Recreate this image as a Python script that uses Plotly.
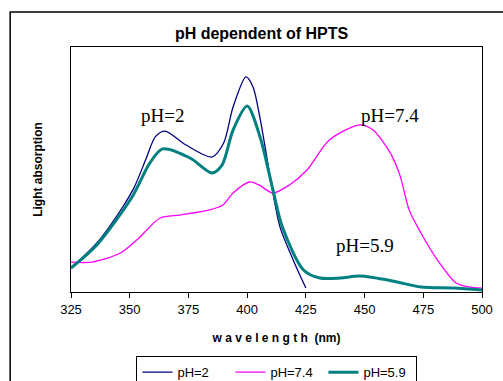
import plotly.graph_objects as go

# pH = 2
wl_ph2 = [325, 336, 347, 352, 357, 361, 365, 374, 385, 390, 394, 399.5, 402.5, 405.4, 411, 414, 419.6, 425]
abs_ph2 = [0.098, 0.200, 0.347, 0.429, 0.545, 0.635, 0.657, 0.600, 0.551, 0.608, 0.755, 0.878, 0.837, 0.714, 0.404, 0.265, 0.131, 0.016]

# pH = 7.4
wl_ph74 = [325, 334, 346, 353, 363, 371.4, 384, 389.7, 394, 401, 405, 411, 418, 425.5, 435, 448, 453.6, 461, 465, 469, 474, 481, 489, 495, 500]
abs_ph74 = [0.122, 0.122, 0.159, 0.212, 0.302, 0.314, 0.335, 0.355, 0.404, 0.449, 0.437, 0.404, 0.437, 0.498, 0.620, 0.682, 0.661, 0.567, 0.478, 0.335, 0.241, 0.131, 0.037, 0.020, 0.016]

# pH = 5.9
wl_ph59 = [325, 336, 351, 358.6, 364, 375.7, 385, 389.3, 394, 400, 405.5, 411, 415, 424, 431, 439.6, 448, 462, 474, 488, 500]
abs_ph59 = [0.098, 0.192, 0.388, 0.527, 0.584, 0.547, 0.486, 0.518, 0.661, 0.759, 0.633, 0.416, 0.265, 0.090, 0.057, 0.057, 0.065, 0.045, 0.020, 0.016, 0.008]

x_ticks = [325, 350, 375, 400, 425, 450, 475, 500]

fig = go.Figure()
fig.add_trace(go.Scatter(x=wl_ph2, y=abs_ph2, mode="lines", name="pH=2",
                         line=dict(color="#000080", width=1.3, shape="spline", smoothing=0.8)))
fig.add_trace(go.Scatter(x=wl_ph74, y=abs_ph74, mode="lines", name="pH=7.4",
                         line=dict(color="#FF00FF", width=1.3, shape="spline", smoothing=0.8)))
fig.add_trace(go.Scatter(x=wl_ph59, y=abs_ph59, mode="lines", name="pH=5.9",
                         line=dict(color="#008080", width=3, shape="spline", smoothing=0.8)))

serif = dict(family="Liberation Serif, Times New Roman, serif", size=19, color="black")
fig.add_annotation(x=364, y=0.72, text="pH=2", showarrow=False, font=serif)
fig.add_annotation(x=461, y=0.72, text="pH=7.4", showarrow=False, font=serif)
fig.add_annotation(x=450, y=0.19, text="pH=5.9", showarrow=False, font=serif)

# outer chart frame
fig.add_shape(type="rect", xref="paper", yref="paper",
              x0=-0.148, x1=1.06, y0=-0.5, y1=1.143,
              line=dict(color="black", width=1.5))

fig.update_layout(
    width=503, height=381,
    margin=dict(l=71, r=21, t=47, b=89, autoexpand=False),
    paper_bgcolor="white", plot_bgcolor="white",
    font=dict(family="Liberation Sans, Arial, sans-serif", size=12, color="black"),
    title=dict(text="<b>pH dependent of HPTS</b>", x=0.52, xanchor="center",
               y=1 - 33 / 381, yanchor="middle", font=dict(size=16), automargin=False),
    showlegend=True,
    legend=dict(orientation="h", x=0.501, xanchor="center", y=-0.262, yanchor="top",
                bordercolor="black", borderwidth=1, font=dict(size=13),
                entrywidth=48, entrywidthmode="pixels"),
)
fig.update_xaxes(range=[325, 500], tickvals=x_ticks, ticktext=[str(v) for v in x_ticks],
                 showgrid=False, zeroline=False, showline=True, linecolor="black", linewidth=1,
                 mirror=True, ticks="outside", ticklen=5, tickcolor="black",
                 tickfont=dict(size=13), automargin=False,
                 title=dict(text="<b>w a v e l e n g t h  (nm)</b>", font=dict(size=12), standoff=18))
fig.update_yaxes(range=[0, 1], showgrid=False, zeroline=False, showline=True, linecolor="black",
                 linewidth=1, mirror=True, showticklabels=False, ticks="", automargin=False,
                 title=dict(text="<b>Light absorption</b>", font=dict(size=12), standoff=24))

fig.write_html("out.html", config={"displayModeBar": False},
               post_script="document.body.style.margin='0';document.body.style.overflow='hidden';")
